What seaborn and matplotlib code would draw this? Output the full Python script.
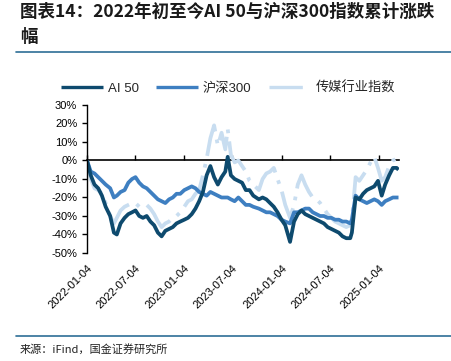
import matplotlib
matplotlib.use("Agg")
import matplotlib.pyplot as plt
from matplotlib.lines import Line2D
from matplotlib.ticker import FuncFormatter
import seaborn as sns
import pandas as pd

dates = [
    "2022-01-04", "2022-01-18", "2022-02-01", "2022-02-15", "2022-03-01", "2022-03-15",
    "2022-04-01", "2022-04-15", "2022-04-26", "2022-05-10", "2022-05-25", "2022-06-08",
    "2022-06-22", "2022-07-05", "2022-07-19", "2022-08-02", "2022-08-16", "2022-08-30",
    "2022-09-13", "2022-09-27", "2022-10-11", "2022-10-25", "2022-11-08", "2022-11-22",
    "2022-12-06", "2022-12-20", "2023-01-04", "2023-01-18", "2023-02-01", "2023-02-15",
    "2023-03-01", "2023-03-15", "2023-03-29", "2023-04-12", "2023-04-26", "2023-05-10",
    "2023-05-24", "2023-06-07", "2023-06-16", "2023-06-28", "2023-07-12", "2023-07-26",
    "2023-08-09", "2023-08-23", "2023-09-06", "2023-09-20", "2023-10-11", "2023-10-25",
    "2023-11-08", "2023-11-22", "2023-12-06", "2023-12-20", "2024-01-04", "2024-01-18",
    "2024-02-05", "2024-02-20", "2024-03-05", "2024-03-19", "2024-04-02", "2024-04-16",
    "2024-04-30", "2024-05-14", "2024-05-28", "2024-06-11", "2024-06-25", "2024-07-09",
    "2024-07-23", "2024-08-06", "2024-08-20", "2024-09-03", "2024-09-18", "2024-09-24",
    "2024-10-08", "2024-10-22", "2024-11-05", "2024-11-19", "2024-12-03", "2024-12-17",
    "2024-12-31", "2025-01-14", "2025-01-27", "2025-02-11", "2025-02-25", "2025-03-11",
    "2025-03-18",
]

ai50 = [
    0, -8, -13, -15, -19, -25, -30, -39, -40, -34, -31, -29,
    -28, -27, -30, -31, -30, -33, -35, -39, -41, -38, -37, -36,
    -34, -33, -32, -31, -29, -26, -22, -17, -8, -3, -9, -13,
    -9, -6, 2, -8, -10, -11, -12, -16, -16, -19, -21, -20,
    -21, -23, -25, -28, -32, -35, -44, -33, -29, -27, -29, -30,
    -31, -32, -33, -34, -36, -37, -38, -39, -41, -42, -42, -39,
    -20, -21, -18, -16, -15, -14, -11, -19, -13, -8, -4, -4,
    -5,
]

hs300 = [
    0, -6, -7, -9, -11, -13, -15, -20, -19, -17, -16, -12,
    -10, -9, -12, -14, -15, -17, -19, -21, -22, -23, -21, -20,
    -18, -18, -16, -15, -14, -15, -17, -18, -19, -17, -18, -19,
    -20, -20, -20, -21, -22, -20, -22, -24, -24, -25, -26, -27,
    -28, -28, -29, -30, -32, -33, -34, -28, -28, -27, -26, -26,
    -28, -29, -30, -30, -31, -31, -32, -32, -33, -33, -34, -32,
    -19, -21, -22, -23, -22, -21, -22, -24, -22, -21, -20, -20,
    -20,
]

media = [
    0, -10, -15, -16, -18, -23, -30, -34, -31, -27, -25, -24,
    -23, -23, -25, -24, -24, -26, -29, -33, -36, -34, -33, -31,
    -30, -28, -25, -22, -21, -18, -16, -8, 1, 12, 19, 8,
    15, 6, 17, 3, -1, 0, -3, -6, -11, -13, -16, -10,
    -7, -6, -4, -10, -16, -24, -31, -24, -13, -8, -13, -17,
    -20, -21, -23, -26, -29, -31, -33, -34, -35, -36, -35, -33,
    -9, -11, -8, -5, -1, 2, -4, -11, -9, -3, 0, 1,
    -1,
]

series_names = ["AI 50", "沪深300", "传媒行业指数"]
tick_dates = ["2022-01-04", "2022-07-04", "2023-01-04", "2023-07-04",
              "2024-01-04", "2024-07-04", "2025-01-04"]

df = pd.DataFrame({"date": pd.to_datetime(dates), series_names[0]: ai50,
                   series_names[1]: hs300, series_names[2]: media})
long = df.melt(id_vars="date", var_name="series", value_name="value")

sns.set_theme(style="white")
plt.rcParams["font.family"] = ["Liberation Sans", "Noto Sans CJK SC", "DejaVu Sans"]

colors = {"AI 50": "#0E4A6E", "沪深300": "#3E7FC1", "传媒行业指数": "#C8DDF0"}

fig = plt.figure(figsize=(4.52, 3.61), dpi=100)
ax = fig.add_axes([87 / 452, 1 - 253 / 361, (398.5 - 87) / 452, (253 - 105) / 361])

order_draw = ["传媒行业指数", "沪深300", "AI 50"]
styles = {"AI 50": "-", "沪深300": "-", "传媒行业指数": (0, (10, 2.2, 1, 2.2))}
for name in order_draw:
    sub = long[long["series"] == name]
    sns.lineplot(data=sub, x="date", y="value", ax=ax, color=colors[name],
                 linewidth=2.7, linestyle=styles[name], legend=False,
                 solid_capstyle="butt")

ax.set_xlim(df["date"].iloc[0], df["date"].iloc[-1])
ax.set_ylim(-50, 30)
ax.set_yticks(range(-50, 31, 10))
ax.yaxis.set_major_formatter(FuncFormatter(lambda v, p: f"{int(v)}%"))
ax.set_xlabel("")
ax.set_ylabel("")

for s in ["top", "right"]:
    ax.spines[s].set_visible(False)
ax.spines["left"].set_color("black")
ax.spines["left"].set_linewidth(1.0)
ax.spines["bottom"].set_position(("data", 0))
ax.spines["bottom"].set_color("black")
ax.spines["bottom"].set_linewidth(1.2)
ax.spines["bottom"].set_zorder(0.5)

tk = pd.to_datetime(tick_dates)
ax.set_xticks(tk)
ax.tick_params(axis="x", direction="in", length=3.5, width=1.0, color="black",
               labelbottom=False, bottom=True)
ax.tick_params(axis="y", direction="out", length=3.5, width=1.0, color="black",
               labelsize=8, pad=3.5, left=True, labelcolor="black")

sec = ax.secondary_xaxis("bottom")
sec.set_xticks(tk)
sec.set_xticklabels(tick_dates, rotation=45, ha="right", rotation_mode="anchor",
                    fontsize=8, color="black")
sec.tick_params(length=0, pad=7)
sec.spines["bottom"].set_visible(False)

leg_styles = {"AI 50": "-", "沪深300": "-", "传媒行业指数": (0, (10, 3, 1, 3))}
handles = [Line2D([], [], color=colors[n], linewidth=2.4, linestyle=leg_styles[n],
                  solid_capstyle="butt") for n in series_names]
fig.legend(handles, series_names, loc="center", bbox_to_anchor=(228 / 452, 1 - 88 / 361),
           ncol=3, frameon=False, fontsize=9.5, handlelength=3.2, handletextpad=0.35,
           columnspacing=1.3, borderaxespad=0, borderpad=0)

fig.text(20 / 452, 1 - 3 / 361, "图表14：2022年初至今AI 50与沪深300指数累计涨跌\n幅",
         ha="left", va="top", fontsize=12.6, fontweight="bold", color="#1a1a1a",
         family=["Noto Sans CJK SC", "DejaVu Sans"], linespacing=1.5)

line_color = "#2E6E96"
fig.add_artist(Line2D([16 / 452, 1], [1 - 52 / 361, 1 - 52 / 361], transform=fig.transFigure,
                      color=line_color, linewidth=1.2))
fig.add_artist(Line2D([16 / 452, 1], [1 - 336 / 361, 1 - 336 / 361], transform=fig.transFigure,
                      color=line_color, linewidth=1.2))

fig.text(20 / 452, 1 - 349 / 361, "来源：iFind，国金证券研究所", ha="left", va="center",
         fontsize=8, color="#222222", family=["Noto Sans CJK SC", "DejaVu Sans"])

fig.savefig("out.png", dpi=100)
